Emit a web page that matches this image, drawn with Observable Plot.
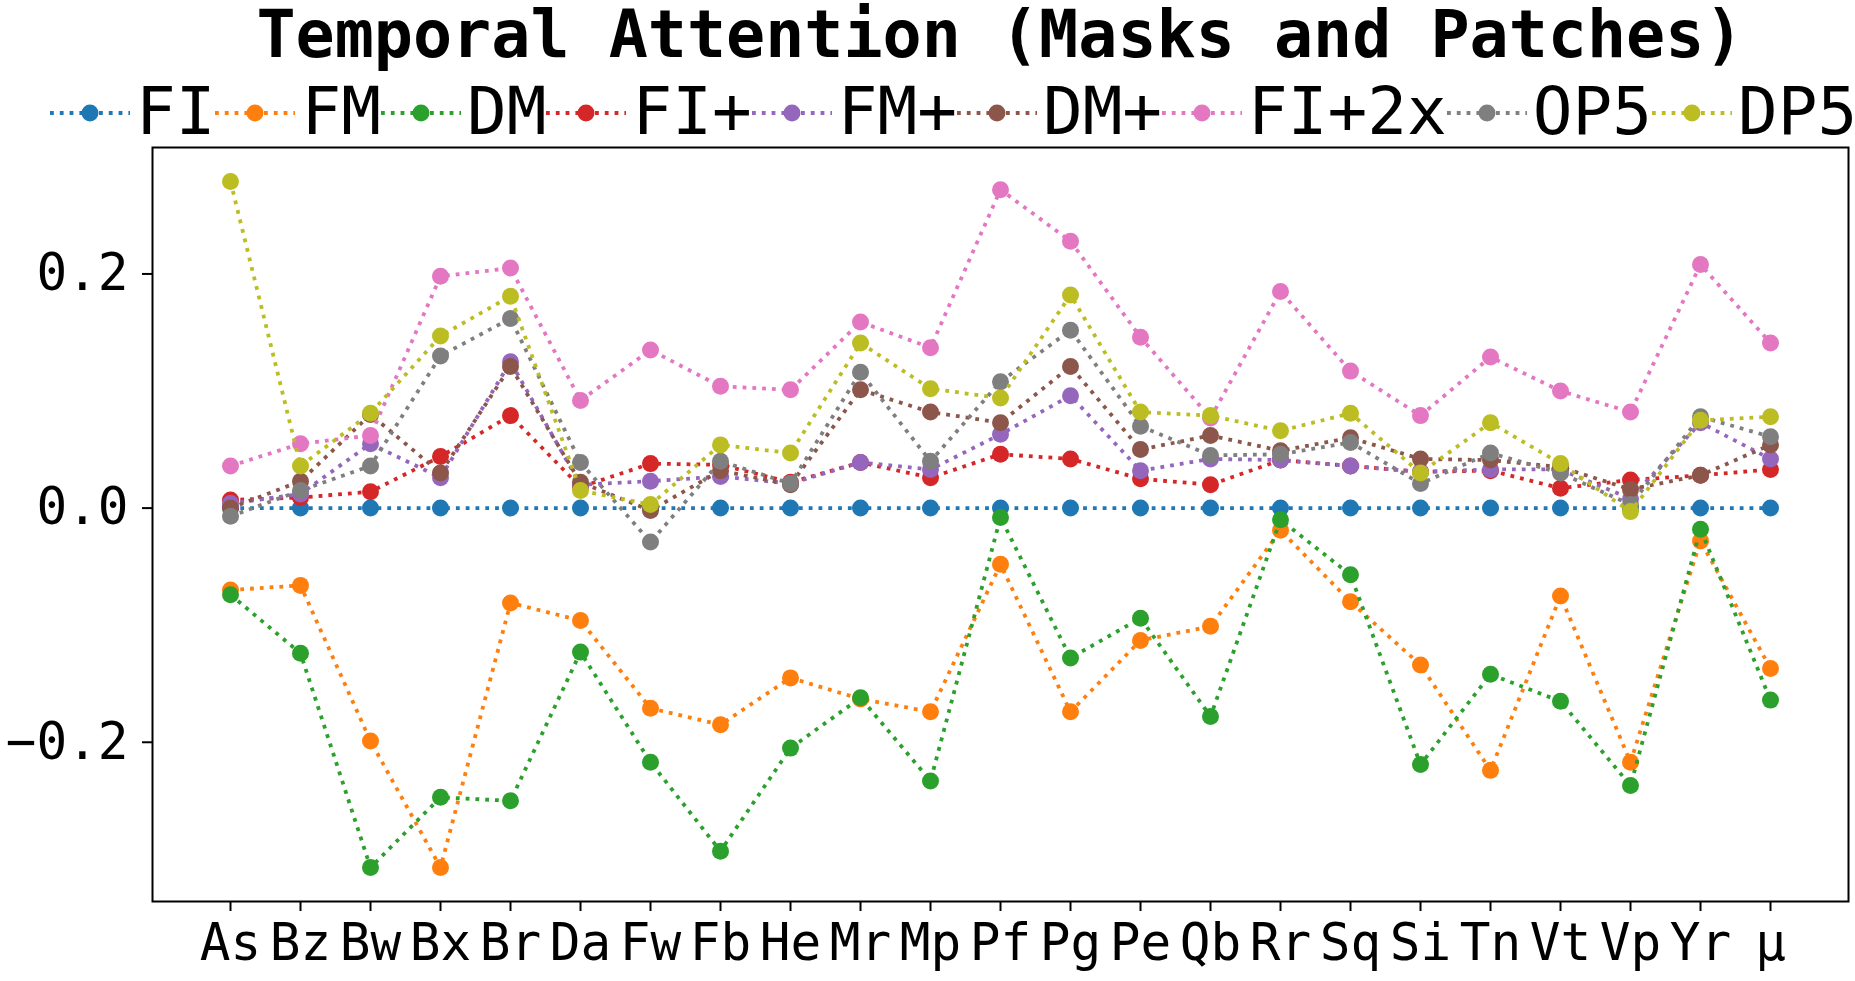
<!DOCTYPE html>
<html>
<head>
<meta charset="utf-8">
<script src="https://cdn.jsdelivr.net/npm/d3@7"></script>
<script src="https://cdn.jsdelivr.net/npm/@observablehq/plot@0.6"></script>
<style>
  html, body { margin: 0; padding: 0; background: #fff; }
  body { width: 1855px; height: 981px; position: relative; overflow: hidden; font-family: "DejaVu Sans Mono", monospace; }
  #title { position: absolute; left: 152px; width: 1696px; top: 2px; text-align: center; font: bold 65px/66px "DejaVu Sans Mono", monospace; color: #000; white-space: nowrap; }
  #legend { position: absolute; left: 50px; top: 79px; height: 66px; display: flex; align-items: center; white-space: nowrap; }
  .item { display: flex; align-items: center; height: 66px; }
  .item span { font: 66px/66px "DejaVu Sans Mono", monospace; color: #000; margin-left: 6px; }
  #chart { position: absolute; left: 0; top: 137px; }
</style>
</head>
<body>
<div id="title">Temporal Attention (Masks and Patches)</div>
<div id="legend"></div>
<div id="chart"></div>
<script>
const categories = ["As","Bz","Bw","Bx","Br","Da","Fw","Fb","He","Mr","Mp","Pf","Pg","Pe","Qb","Rr","Sq","Si","Tn","Vt","Vp","Yr","μ"];

const seriesNames = ["FI","FM","DM","FI+","FM+","DM+","FI+2x","OP5","DP5"];
const seriesColors = ["#1f77b4","#ff7f0e","#2ca02c","#d62728","#9467bd","#8c564b","#e377c2","#7f7f7f","#bcbd22"];

const FI       = [0,0,0,0,0,0,0,0,0,0,0,0,0,0,0,0,0,0,0,0,0,0,0];
const FM       = [-0.070,-0.066,-0.199,-0.307,-0.081,-0.096,-0.171,-0.185,-0.145,-0.163,-0.174,-0.048,-0.174,-0.113,-0.101,-0.019,-0.080,-0.134,-0.224,-0.075,-0.217,-0.028,-0.137];
const DM       = [-0.074,-0.124,-0.307,-0.247,-0.250,-0.123,-0.217,-0.293,-0.205,-0.162,-0.233,-0.008,-0.128,-0.094,-0.178,-0.010,-0.057,-0.219,-0.142,-0.165,-0.237,-0.018,-0.164];
const FIplus   = [0.007,0.009,0.014,0.044,0.079,0.018,0.038,0.037,0.022,0.039,0.026,0.046,0.042,0.025,0.020,0.041,0.036,0.031,0.032,0.017,0.024,0.028,0.033];
const FMplus   = [0.004,0.012,0.055,0.026,0.125,0.020,0.023,0.027,0.021,0.039,0.033,0.063,0.096,0.032,0.042,0.041,0.036,0.031,0.033,0.033,0.008,0.073,0.042];
const DMplus   = [0.000,0.023,0.080,0.030,0.121,0.022,-0.002,0.032,0.020,0.101,0.082,0.073,0.121,0.050,0.062,0.049,0.060,0.042,0.041,0.035,0.016,0.028,0.054];
const FIplus2x = [0.036,0.055,0.062,0.198,0.205,0.092,0.135,0.104,0.101,0.159,0.137,0.272,0.228,0.146,0.077,0.185,0.117,0.079,0.129,0.100,0.082,0.208,0.141];
const OP5      = [-0.007,0.015,0.036,0.130,0.162,0.039,-0.029,0.040,0.021,0.116,0.040,0.108,0.152,0.070,0.045,0.046,0.056,0.021,0.047,0.030,0.003,0.078,0.061];
const DP5      = [0.279,0.036,0.081,0.147,0.181,0.015,0.003,0.054,0.047,0.141,0.102,0.094,0.182,0.082,0.079,0.066,0.081,0.030,0.073,0.038,-0.003,0.075,0.078];

const yTicks = [-0.2, 0.0, 0.2];
const yDomain = [-0.336, 0.308];

const seriesValues = [FI, FM, DM, FIplus, FMplus, DMplus, FIplus2x, OP5, DP5];

const LW = 3.8;
const DASH = "3.8,6";

// Legend (HTML)
const legend = document.getElementById("legend");
seriesNames.forEach((name, i) => {
  const item = document.createElement("div");
  item.className = "item";
  const c = seriesColors[i];
  item.innerHTML =
    `<svg width="80" height="66" viewBox="0 0 80 66">
       <line x1="0" x2="80" y1="34" y2="34" stroke="${c}" stroke-width="${LW}" stroke-dasharray="${DASH}"/>
       <circle cx="40" cy="34" r="8.5" fill="${c}"/>
     </svg><span>${name}</span>`;
  legend.appendChild(item);
});

// Chart
const marks = [];
seriesNames.forEach((name, i) => {
  const rows = categories.map((cat, j) => ({cat, value: seriesValues[i][j], series: name}));
  marks.push(Plot.line(rows, {x: "cat", y: "value", stroke: seriesColors[i], strokeWidth: LW, strokeDasharray: DASH, strokeLinecap: "butt", strokeLinejoin: "round"}));
  marks.push(Plot.dot(rows, {x: "cat", y: "value", r: 8.5, fill: seriesColors[i], stroke: "none"}));
});

const chart = Plot.plot({
  width: 1855,
  height: 844,
  marginLeft: 152,
  marginRight: 7,
  marginTop: 10,
  marginBottom: 80,
  style: {fontFamily: "DejaVu Sans Mono, monospace", color: "#000", background: "#fff", overflow: "visible"},
  x: {type: "point", domain: categories, padding: 1.1, label: null},
  y: {domain: yDomain, label: null},
  marks: [
    ...marks,
    Plot.frame({stroke: "#000", strokeWidth: 2}),
    Plot.axisX({tickSize: 10, tickPadding: 12, fontSize: 51, strokeWidth: 2, label: null}),
    Plot.axisY({ticks: yTicks, tickFormat: d3.format(".1f"), tickSize: 10, tickPadding: 14, fontSize: 51, strokeWidth: 2, label: null})
  ]
});
document.getElementById("chart").appendChild(chart);
</script>
</body>
</html>
